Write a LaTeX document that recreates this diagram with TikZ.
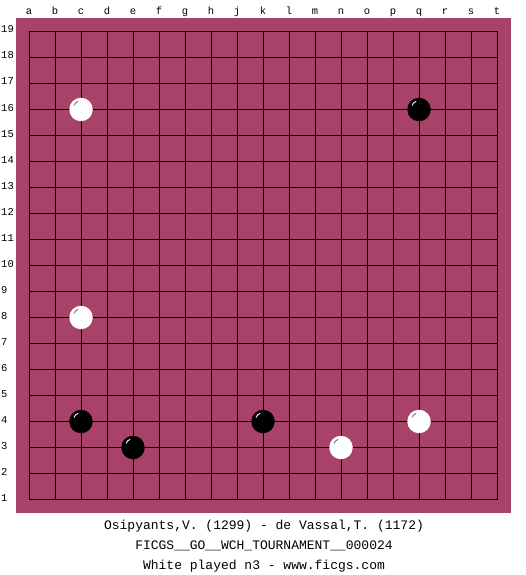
\documentclass[tikz,border=0pt]{standalone}
\usepackage{fontspec}
\setmonofont{Liberation Mono}
\definecolor{boardbg}{RGB}{168,66,104}
\definecolor{hlgrey}{RGB}{120,120,120}
\tikzset{
  gridline/.style={black, line width=0.9pt},
  whitestone/.style={circle, fill=white, minimum size=23.5pt, inner sep=0pt},
  blackstone/.style={circle, fill=black, minimum size=23.5pt, inner sep=0pt},
  coordlabel/.style={font=\ttfamily\fontsize{10.5}{11}\selectfont, inner sep=0pt},
  caption/.style={font=\ttfamily\fontsize{13}{14}\selectfont, inner sep=0pt, anchor=base}
}
\begin{document}
\begin{tikzpicture}[x=1pt,y=-1pt]
\useasboundingbox (0,0) rectangle (525,575);
\fill[white] (0,0) rectangle (525,575);
\fill[boardbg] (16,18) rectangle (511,513);
% grid
\foreach \i in {0,...,18} {
  \draw[gridline] (29+26*\i,31.5) -- (29+26*\i,499.5);
  \draw[gridline] (29,31.5+26*\i) -- (497,31.5+26*\i);
}
% column labels
\foreach \l [count=\i from 0] in {a,b,c,d,e,f,g,h,j,k,l,m,n,o,p,q,r,s,t} {
  \node[coordlabel, anchor=base] (col\l) at (29+26*\i,14.5) {\l};
}
% row labels
\foreach \r in {1,...,19} {
  \node[coordlabel, anchor=base west] (row\r) at (1,499.5-26*\r+26+1.5) {\r};
}
% stones
\foreach \n/\c/\r in {wc16/2/16, wc8/2/8, wq4/15/4, wn3/12/3} {
  \node[whitestone] (\n) at (29+26*\c,499.5-26*\r+26) {};
  \draw[hlgrey, line width=0.9pt] ([shift={(-7,-4)}]\n.center) arc[start angle=200, end angle=250, radius=7];
}
\foreach \n/\c/\r in {bq16/15/16, bc4/2/4, be3/4/3, bk4/9/4} {
  \node[blackstone] (\n) at (29+26*\c,499.5-26*\r+26) {};
  \draw[white, line width=0.9pt] ([shift={(-7,-4)}]\n.center) arc[start angle=200, end angle=250, radius=7];
}
% captions
\node[caption] (line1) at (264,529) {Osipyants,V. (1299) - de Vassal,T. (1172)};
\node[caption] (line2) at (264,549) {FICGS\_\_GO\_\_WCH\_TOURNAMENT\_\_000024};
\node[caption] (line3) at (264,569) {White played n3 - www.ficgs.com};
\end{tikzpicture}
\end{document}
